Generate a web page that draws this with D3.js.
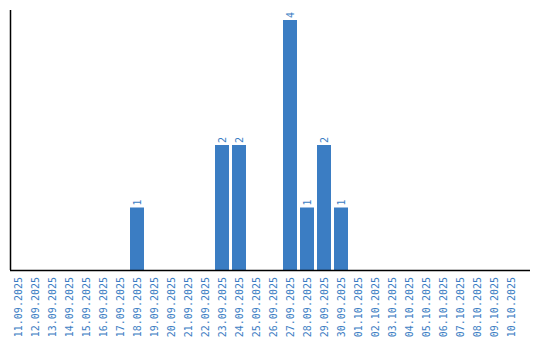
<!DOCTYPE html>
<html>
<head>
<meta charset="utf-8">
<script src="https://cdn.jsdelivr.net/npm/d3@7"></script>
<style>
  body { margin: 0; background: #fff; }
  text { font-family: "DejaVu Sans Mono", monospace; font-size: 10px; }
</style>
</head>
<body>
<div id="chart"></div>
<script>
  // Days shown on the axis
  const dates = [
    '11.09.2025', '12.09.2025', '13.09.2025', '14.09.2025', '15.09.2025',
    '16.09.2025', '17.09.2025', '18.09.2025', '19.09.2025', '20.09.2025',
    '21.09.2025', '22.09.2025', '23.09.2025', '24.09.2025', '25.09.2025',
    '26.09.2025', '27.09.2025', '28.09.2025', '29.09.2025', '30.09.2025',
    '01.10.2025', '02.10.2025', '03.10.2025', '04.10.2025', '05.10.2025',
    '06.10.2025', '07.10.2025', '08.10.2025', '09.10.2025', '10.10.2025'
  ];
  // Count per day
  const counts = [
    0, 0, 0, 0, 0, 0, 0, 1, 0, 0,
    0, 0, 2, 2, 0, 0, 4, 1, 2, 1,
    0, 0, 0, 0, 0, 0, 0, 0, 0, 0
  ];

  const width = 540, height = 340;
  const blue = '#3b7dc3';

  const svg = d3.select('#chart')
    .append('svg')
    .attr('width', width)
    .attr('height', height);

  const x = d3.scaleBand()
    .domain(dates)
    .range([11, 518])
    .paddingInner(3 / 17)
    .paddingOuter(0)
    .align(0);

  const y = d3.scaleLinear()
    .domain([0, 4])
    .range([270, 20]);

  const data = dates.map((d, i) => ({ date: d, count: counts[i] }));
  const bars = data.filter(d => d.count > 0);

  // bars
  svg.selectAll('.bar')
    .data(bars)
    .join('rect')
    .attr('class', 'bar')
    .attr('x', d => x(d.date))
    .attr('y', d => y(d.count))
    .attr('width', x.bandwidth())
    .attr('height', d => y(0) - y(d.count))
    .attr('fill', blue);

  // value labels, rotated
  svg.selectAll('.val')
    .data(bars)
    .join('text')
    .attr('class', 'val')
    .attr('transform', d => `translate(${x(d.date) + x.bandwidth() / 2 + 3.5},${y(d.count) - 2}) rotate(-90)`)
    .attr('text-anchor', 'start')
    .attr('fill', blue)
    .text(d => d.count);

  // date labels
  svg.selectAll('.tick-label')
    .data(dates)
    .join('text')
    .attr('class', 'tick-label')
    .attr('transform', d => `translate(${x(d) + x.bandwidth() / 2 + 3.5},277) rotate(-90)`)
    .attr('text-anchor', 'end')
    .attr('fill', blue)
    .text(d => d);

  // axis lines
  svg.append('line')
    .attr('x1', 10.5).attr('x2', 10.5)
    .attr('y1', 10).attr('y2', y(0))
    .attr('stroke', '#000')
    .attr('stroke-width', 1.5);

  svg.append('line')
    .attr('x1', 10).attr('x2', 530)
    .attr('y1', y(0) + 0.5).attr('y2', y(0) + 0.5)
    .attr('stroke', '#000')
    .attr('stroke-width', 1.5);
</script>
</body>
</html>
